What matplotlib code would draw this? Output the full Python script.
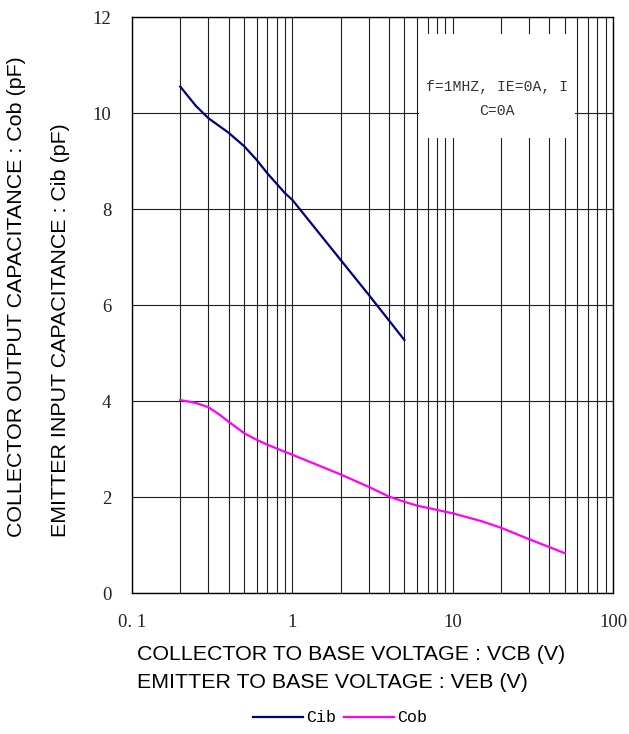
import numpy as np
import matplotlib
matplotlib.use('Agg')
import matplotlib.pyplot as plt
import matplotlib.ticker as ticker
import matplotlib.patches as patches

# Cib curve (emitter input capacitance)
cib_v = [0.2, 0.25, 0.3, 0.4, 0.5, 0.6, 0.7, 0.9, 1.0, 2.0, 3.0, 5.0]
cib_c = [10.55, 10.15, 9.89, 9.59, 9.31, 9.02, 8.74, 8.33, 8.19, 6.94, 6.21, 5.27]

# Cob curve (collector output capacitance)
cob_v = [0.2, 0.25, 0.3, 0.35, 0.4, 0.5, 0.6, 0.7, 0.9, 1.0, 2.0, 3.0, 4.0,
         5.0, 6.0, 8.0, 10.0, 15.0, 20.0, 30.0, 50.0]
cob_c = [4.02, 3.96, 3.87, 3.72, 3.57, 3.33, 3.19, 3.09, 2.94, 2.88, 2.47,
         2.21, 2.01, 1.90, 1.82, 1.73, 1.66, 1.50, 1.36, 1.12, 0.83]

x_ticks = [0.1, 1, 10, 100]
x_ticklabels = ['0. 1', '1', '10', '100']
y_ticks = [0, 2, 4, 6, 8, 10, 12]

note = 'f=1MHZ, IE=0A, I\nC=0A'

W, H = 629, 734
fig = plt.figure(figsize=(W / 100, H / 100), dpi=100)
ax = fig.add_axes([132 / W, 1 - 593 / H, (613 - 132) / W, (593 - 17) / H])

ax.set_xscale('log')
ax.set_xlim(0.1, 100)
ax.set_ylim(0, 12)

# grid: every minor decade line vertically, major y ticks horizontally
ax.xaxis.set_minor_locator(ticker.LogLocator(base=10, subs=np.arange(2, 10)))
ax.xaxis.set_minor_formatter(ticker.NullFormatter())
ax.grid(True, which='both', axis='x', color='#1e1e1e', linewidth=0.8, zorder=1)
ax.grid(True, which='major', axis='y', color='#1e1e1e', linewidth=0.8, zorder=1)
ax.set_axisbelow(True)

ax.set_xticks(x_ticks)
ax.set_xticklabels(x_ticklabels)
ax.set_yticks(y_ticks)
ax.tick_params(which='both', length=0)
ax.tick_params(axis='x', pad=15)
ax.tick_params(axis='y', pad=15)
for lab in ax.get_xticklabels() + ax.get_yticklabels():
    lab.set_fontfamily('Liberation Serif')
    lab.set_fontsize(13.5)
    lab.set_color('#222222')

for sp in ax.spines.values():
    sp.set_color('black')
    sp.set_linewidth(1.0)

ax.plot(cib_v, cib_c, color='#000080', linewidth=1.6, label='Cib', zorder=3)
ax.plot(cob_v, cob_c, color='#ff00ff', linewidth=1.6, label='Cob', zorder=3)

# white note box hiding the grid
box = patches.Rectangle((419 / W, 1 - 138 / H), (575 - 419) / W, (138 - 34) / H,
                        transform=fig.transFigure, facecolor='white',
                        edgecolor='none', zorder=2)
ax.add_artist(box)
fig.text(497 / W, 1 - 99 / H, note, ha='center', va='center',
         family='Liberation Mono', fontsize=10.6, color='#333333',
         linespacing=1.95, zorder=4)

# axis titles
fig.text(137 / W, 1 - 655 / H, 'COLLECTOR TO BASE VOLTAGE : VCB (V)',
         ha='left', va='center', family='Liberation Sans', fontsize=15.4)
fig.text(137 / W, 1 - 682 / H, 'EMITTER TO BASE VOLTAGE : VEB (V)',
         ha='left', va='center', family='Liberation Sans', fontsize=15.4)
fig.text(17 / W, 1 - 537 / H, 'COLLECTOR OUTPUT CAPACITANCE : Cob (pF)',
         rotation=90, ha='center', va='bottom', family='Liberation Sans',
         fontsize=15.4)
fig.text(60 / W, 1 - 537 / H, 'EMITTER INPUT CAPACITANCE : Cib (pF)',
         rotation=90, ha='center', va='bottom', family='Liberation Sans',
         fontsize=15.4)

leg = fig.legend(loc='center', bbox_to_anchor=(340 / W, 1 - 718 / H), ncol=2,
                 frameon=False, handlelength=3.0, handletextpad=0.15,
                 columnspacing=0.5, prop={'family': 'Liberation Mono', 'size': 12})

fig.savefig('out.png', dpi=100)
